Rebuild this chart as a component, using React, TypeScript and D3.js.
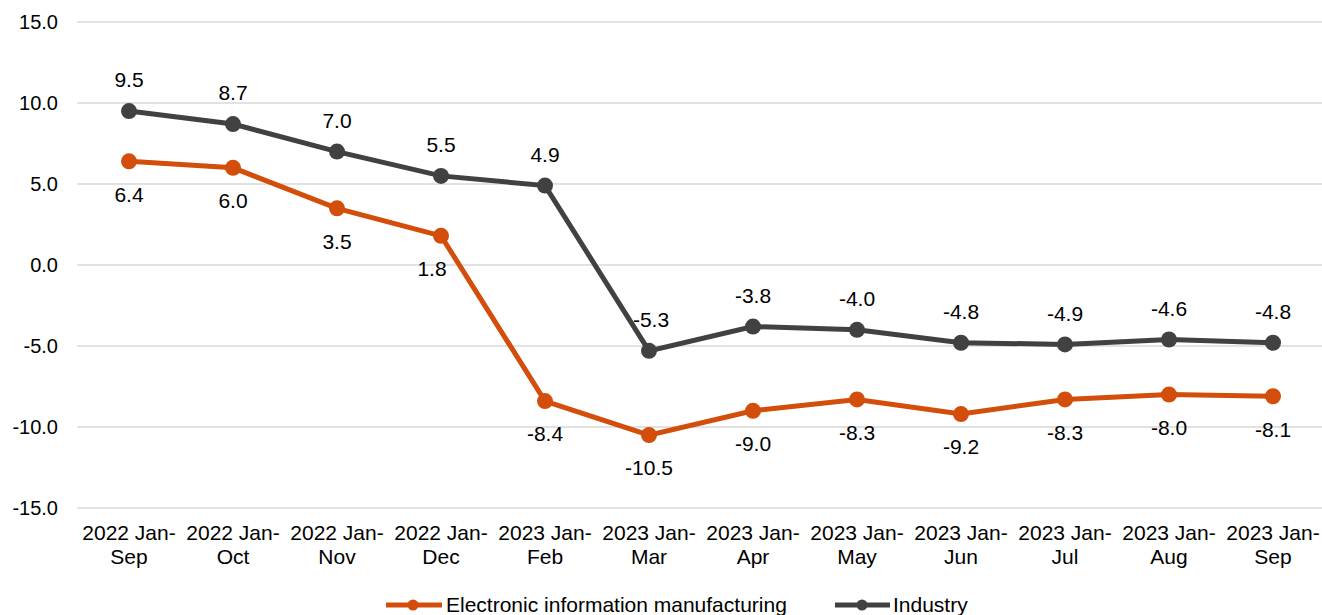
import React from "react";
import * as d3 from "d3";

const categories = [
  ["2022 Jan-", "Sep"], ["2022 Jan-", "Oct"], ["2022 Jan-", "Nov"], ["2022 Jan-", "Dec"],
  ["2023 Jan-", "Feb"], ["2023 Jan-", "Mar"], ["2023 Jan-", "Apr"], ["2023 Jan-", "May"],
  ["2023 Jan-", "Jun"], ["2023 Jan-", "Jul"], ["2023 Jan-", "Aug"], ["2023 Jan-", "Sep"],
];
const electronic = [6.4, 6.0, 3.5, 1.8, -8.4, -10.5, -9.0, -8.3, -9.2, -8.3, -8.0, -8.1];
const industry = [9.5, 8.7, 7.0, 5.5, 4.9, -5.3, -3.8, -4.0, -4.8, -4.9, -4.6, -4.8];
const yTicks = [-15, -10, -5, 0, 5, 10, 15];

const ORANGE = "#D24E0A";
const GRAY = "#414141";
const FONT = "'Liberation Sans', Arial, sans-serif";

export default function App() {
  const W = 1322, H = 615;
  const x = d3.scaleBand<number>().domain(d3.range(categories.length)).range([77, 1325]);
  const y = d3.scaleLinear().domain([-15, 15]).range([508, 22]);
  const cx = (i: number) => (x(i) as number) + x.bandwidth() / 2;
  const line = d3.line<number>().x((_, i) => cx(i)).y((d) => y(d));

  return (
    <svg width={W} height={H} style={{ position: "absolute", left: 0, top: 0, fontFamily: FONT }}>
      <rect width={W} height={H} fill="#fff" />
      {yTicks.map((t) => (
        <g key={t}>
          <line x1={77} x2={1325} y1={y(t)} y2={y(t)} stroke="#d9d9d9" strokeWidth={1.5} />
          <text x={58} y={y(t)} dy="0.35em" textAnchor="end" fontSize={20} fill="#000">
            {t.toFixed(1)}
          </text>
        </g>
      ))}
      {categories.map((c, i) => (
        <text key={i} x={cx(i)} textAnchor="middle" fontSize={21} fill="#000">
          <tspan x={cx(i)} y={540}>{c[0]}</tspan>
          <tspan x={cx(i)} y={564}>{c[1]}</tspan>
        </text>
      ))}
      <path d={line(electronic) || ""} fill="none" stroke={ORANGE} strokeWidth={5} />
      <path d={line(industry) || ""} fill="none" stroke={GRAY} strokeWidth={5} />
      {electronic.map((v, i) => (
        <circle key={"e" + i} cx={cx(i)} cy={y(v)} r={8} fill={ORANGE} />
      ))}
      {industry.map((v, i) => (
        <circle key={"g" + i} cx={cx(i)} cy={y(v)} r={8} fill={GRAY} />
      ))}
      {electronic.map((v, i) => (
        <text key={"el" + i} x={cx(i) + (i === 3 ? -9 : 0)} y={y(v) + 33} dy="0.35em" textAnchor="middle" fontSize={21} fill="#000">
          {v.toFixed(1)}
        </text>
      ))}
      {industry.map((v, i) => (
        <text key={"gl" + i} x={cx(i) + (i === 5 ? 2 : 0)} y={y(v) - 31} dy="0.35em" textAnchor="middle" fontSize={21} fill="#000">
          {v.toFixed(1)}
        </text>
      ))}
      <g>
        <line x1={386} x2={442} y1={605} y2={605} stroke={ORANGE} strokeWidth={5} />
        <circle cx={413} cy={605} r={5.5} fill={ORANGE} />
        <text x={446} y={612} fontSize={21} fill="#000">Electronic information manufacturing</text>
        <line x1={835} x2={890} y1={605} y2={605} stroke={GRAY} strokeWidth={5} />
        <circle cx={862} cy={605} r={5.5} fill={GRAY} />
        <text x={893} y={612} fontSize={21} fill="#000">Industry</text>
      </g>
    </svg>
  );
}
